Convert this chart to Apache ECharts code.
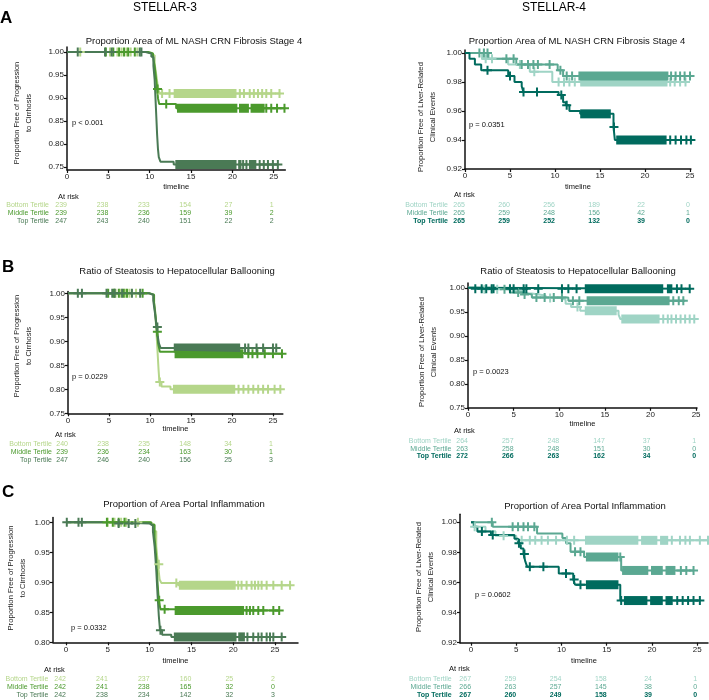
<!DOCTYPE html>
<html><head><meta charset="utf-8">
<script src="https://cdn.jsdelivr.net/npm/echarts@6/dist/echarts.min.js"></script>
<style>html,body{margin:0;padding:0;background:#fff}#c{width:709px;height:700px}</style>
</head><body><div id="c"></div>
<script>
// ================= DATA =================
const xTicks = [0, 5, 10, 15, 20, 25];
const riskTicks = [0, 5, 10, 15, 20, 25];
const tertiles = ['Bottom Tertile', 'Middle Tertile', 'Top Tertile'];
const greens = ['#b5d68a', '#4b9a2d', '#4a7a55'];
const teals = ['#9fd4c5', '#5ba892', '#006b5e'];
const yTicks3 = [0.75, 0.80, 0.85, 0.90, 0.95, 1.00];
const yTicks3c = [0.80, 0.85, 0.90, 0.95, 1.00];
const yTicks4 = [0.92, 0.94, 0.96, 0.98, 1.00];
const yTicks4b = [0.75, 0.80, 0.85, 0.90, 0.95, 1.00];
const titleA = 'Proportion Area of ML NASH CRN Fibrosis Stage 4';
const titleB = 'Ratio of Steatosis to Hepatocellular Ballooning';
const titleC = 'Proportion of Area Portal Inflammation';
const ylab3 = 'Proportion Free of Progression\nto Cirrhosis';
const ylab4 = 'Proportion Free of Liver-Related\nClinical Events';

// ---- A, STELLAR-3 ----
const a3BottomCurve = [[0,1],[9.6,0.998],[10.3,0.993],[10.6,0.975],[10.8,0.95],[10.95,0.93],[11.1,0.915],[11.3,0.91],[25.8,0.91]];
const a3MiddleCurve = [[0,1],[9.8,0.997],[10.4,0.99],[10.6,0.97],[10.75,0.945],[10.9,0.92],[11.0,0.9],[11.15,0.887],[13.2,0.878],[26.4,0.878]];
const a3TopCurve = [[0,1],[9.5,0.997],[10.2,0.99],[10.45,0.97],[10.6,0.94],[10.7,0.9],[10.8,0.86],[10.9,0.82],[11.0,0.79],[11.1,0.772],[11.3,0.762],[12.9,0.756],[25.5,0.756]];
const a3BottomCensor = [1.6,5.2,6.1,6.6,7.2,7.7,8.5,11.5,12.4,20.9,21.4,22.1,22.6,23.1,23.6,24.1,24.7,25.7];
const a3MiddleCensor = [4.7,5.6,6.3,6.9,7.4,8.2,10.95,12.0,24.1,24.7,25.4,26.3];
const a3TopCensor = [1.3,4.6,5.4,8.8,9.0,21.3,21.7,23.3,23.8,24.3,24.9,25.5];
const a3BottomBlocks = [[12.9,20.5]];
const a3MiddleBlocks = [[13.3,20.6],[20.8,22.0],[22.2,23.9]];
const a3TopBlocks = [[13.1,20.5],[20.7,21.1],[22.0,22.9]];
const a3RiskBottom = [239,238,233,154,27,1];
const a3RiskMiddle = [239,238,236,159,39,2];
const a3RiskTop = [247,243,240,151,22,2];

// ---- A, STELLAR-4 ----
const a4BottomCurve = [[0,1],[1.9,0.996],[4.8,0.992],[7.2,0.987],[9.7,0.98],[24.5,0.98]];
const a4MiddleCurve = [[0,1],[2.6,0.996],[5.7,0.992],[10.3,0.988],[10.9,0.984],[25.0,0.984]];
const a4TopCurve = [[0,1],[0.5,0.996],[1.1,0.992],[1.8,0.988],[4.8,0.984],[5.5,0.98],[6.3,0.977],[6.5,0.973],[10.4,0.971],[10.9,0.966],[11.2,0.964],[11.6,0.96],[12.8,0.958],[16.5,0.949],[16.65,0.94],[25.1,0.94]];
const a4BottomCensor = [2.3,3.0,6.1,7.7,10.4,11.0,11.6,12.2,22.8,23.3,23.9,24.5];
const a4MiddleCensor = [1.6,2.1,2.5,4.6,5.4,6.3,7.0,7.6,8.1,9.4,10.6,11.3,11.9,22.9,23.4,23.9,24.4,25.0];
const a4TopCensor = [2.5,5.0,6.5,8.0,10.7,11.3,16.55,22.8,23.4,24.0,24.6,25.1];
const a4BottomBlocks = [[12.8,22.5]];
const a4MiddleBlocks = [[12.6,22.6]];
const a4TopBlocks = [[12.8,16.2],[16.8,22.4]];
const a4RiskBottom = [265,260,256,189,22,0];
const a4RiskMiddle = [265,259,248,156,42,1];
const a4RiskTop = [265,259,252,132,39,0];

// ---- B, STELLAR-3 ----
const b3BottomCurve = [[0,1],[9.8,0.997],[10.4,0.99],[10.6,0.97],[10.75,0.93],[10.85,0.9],[10.95,0.87],[11.05,0.84],[11.15,0.815],[11.4,0.806],[12.5,0.8],[25.9,0.8]];
const b3MiddleCurve = [[0,1],[10.0,0.997],[10.5,0.98],[10.7,0.95],[10.85,0.92],[11.0,0.895],[11.2,0.878],[13.0,0.874],[26.2,0.874]];
const b3TopCurve = [[0,1],[9.9,0.997],[10.4,0.985],[10.6,0.96],[10.8,0.93],[10.95,0.91],[11.1,0.895],[11.3,0.886],[25.5,0.886]];
const b3BottomCensor = [5.8,6.4,7.0,7.5,8.3,11.2,20.8,21.4,22.0,22.6,23.2,23.8,24.4,25.2,25.9];
const b3MiddleCensor = [4.9,5.6,6.2,6.8,7.2,9.1,10.9,22.0,22.5,23.1,24.0,25.0,26.1];
const b3TopCensor = [1.2,1.7,4.7,5.4,5.7,6.6,7.8,8.8,10.9,21.6,22.0,23.0,23.8,25.0,25.4];
const b3BottomBlocks = [[12.8,20.4]];
const b3MiddleBlocks = [[13.0,21.4]];
const b3TopBlocks = [[12.9,21.0]];
const b3RiskBottom = [240,238,235,148,34,1];
const b3RiskMiddle = [239,236,234,163,30,1];
const b3RiskTop = [247,246,240,156,25,3];

// ---- B, STELLAR-4 ----
const b4BottomCurve = [[0,1],[0.6,0.997],[4.6,0.993],[6.0,0.988],[7.0,0.984],[8.5,0.979],[10.0,0.975],[10.7,0.967],[11.3,0.96],[12.3,0.952],[16.5,0.944],[16.7,0.935],[24.8,0.935]];
const b4MiddleCurve = [[0,1],[3.0,0.997],[4.6,0.99],[5.8,0.986],[7.0,0.98],[11.0,0.973],[23.8,0.973]];
const b4TopCurve = [[0,1],[0.6,0.998],[24.4,0.998]];
const b4BottomCensor = [1.8,2.6,3.2,9.0,12.0,21.4,21.9,22.3,22.8,23.3,23.8,24.3,24.8];
const b4MiddleCensor = [4.0,5.5,6.2,7.5,8.4,9.4,10.3,11.5,12.2,22.5,23.1,23.6];
const b4TopCensor = [0.8,1.5,2.0,2.6,2.8,4.6,5.0,6.1,6.4,7.7,10.3,11.0,11.9,22.9,23.4,24.3];
const b4BottomBlocks = [[12.8,16.3],[16.8,21.0]];
const b4MiddleBlocks = [[13.0,22.1]];
const b4TopBlocks = [[12.8,21.4],[21.8,22.4]];
const b4RiskBottom = [264,257,248,147,37,1];
const b4RiskMiddle = [263,258,248,151,30,0];
const b4RiskTop = [272,266,263,162,34,0];

// ---- C, STELLAR-3 ----
const c3BottomCurve = [[0,1],[10.0,0.997],[10.5,0.985],[10.8,0.96],[11.0,0.93],[11.2,0.905],[11.4,0.899],[13.4,0.895],[26.8,0.895]];
const c3MiddleCurve = [[0,1],[10.2,0.996],[10.6,0.975],[10.8,0.94],[10.95,0.9],[11.1,0.87],[11.3,0.855],[12.6,0.853],[25.5,0.853]];
const c3TopCurve = [[0,1],[5.5,0.998],[10.0,0.995],[10.4,0.985],[10.6,0.96],[10.8,0.92],[10.95,0.88],[11.1,0.845],[11.25,0.82],[11.5,0.8125],[12.6,0.809],[25.9,0.809]];
const c3BottomCensor = [5.0,5.8,6.6,7.2,8.6,11.1,13.2,20.6,21.0,21.6,22.2,22.6,23.0,23.4,24.0,24.8,25.8,26.8];
const c3MiddleCensor = [4.9,5.6,6.3,7.0,11.15,11.8,21.6,22.0,22.4,23.0,23.6,24.8,25.5];
const c3TopCensor = [0.1,1.5,1.9,6.3,7.5,8.3,11.3,21.7,22.4,23.0,23.4,24.0,24.4,24.8,25.8];
const c3BottomBlocks = [[13.5,20.3]];
const c3MiddleBlocks = [[13.0,21.3]];
const c3TopBlocks = [[12.9,20.4],[20.6,21.4]];
const c3RiskBottom = [242,241,237,160,25,2];
const c3RiskMiddle = [242,241,238,165,32,0];
const c3RiskTop = [242,238,234,142,32,3];

// ---- C, STELLAR-4 ----
const c4BottomCurve = [[0,1],[0.4,0.997],[1.6,0.994],[2.7,0.991],[5.0,0.988],[26.2,0.988]];
const c4MiddleCurve = [[0,1],[2.4,0.997],[7.3,0.9925],[10.1,0.9895],[10.5,0.986],[11.0,0.9805],[12.5,0.977],[16.6,0.968],[24.6,0.968]];
const c4TopCurve = [[0,1],[0.3,0.997],[0.7,0.9938],[2.2,0.9916],[4.8,0.989],[5.2,0.986],[5.5,0.9825],[5.8,0.979],[6.0,0.974],[6.2,0.9705],[9.7,0.966],[11.3,0.962],[11.5,0.9585],[16.5,0.948],[25.3,0.948]];
const c4BottomCensor = [0.4,3.6,5.6,6.5,7.1,7.8,8.5,9.4,10.6,11.4,22.2,23.1,23.7,24.2,25.3,26.2];
const c4MiddleCensor = [2.3,4.6,5.2,5.8,6.3,7.0,11.5,12.1,16.5,23.2,23.8,24.6];
const c4TopCensor = [1.2,2.4,5.3,5.9,6.5,8.0,10.5,11.4,12.1,16.6,22.8,23.4,24.0,24.6,25.3];
const c4BottomBlocks = [[12.6,18.5],[18.8,20.6],[20.9,21.8]];
const c4MiddleBlocks = [[12.7,16.3],[16.7,19.6],[19.9,21.2],[21.5,22.6]];
const c4TopBlocks = [[12.7,16.3],[16.9,19.5],[19.8,21.2],[21.5,22.3]];
const c4RiskBottom = [267,259,254,158,24,1];
const c4RiskMiddle = [266,263,257,145,38,0];
const c4RiskTop = [267,260,249,158,39,0];

// ================= LAYOUT =================
const FONT = '"Liberation Sans", Arial, Helvetica, sans-serif';
const panels = [
  {grid:{left:67,top:47,width:218.3,height:123}, x:[0,26.4], y:[0.744,1.011], yTicks:yTicks3, colors:greens,
   curves:[a3BottomCurve,a3MiddleCurve,a3TopCurve], censors:[a3BottomCensor,a3MiddleCensor,a3TopCensor],
   blocks:[a3BottomBlocks,a3MiddleBlocks,a3TopBlocks], risk:[a3RiskBottom,a3RiskMiddle,a3RiskTop],
   title:titleA, titleXY:[194,41], ylab:ylab3, ylabSize:7.5, ylabXY:[23,113], p:'p < 0.001', pXY:[72,123],
   tlY:187, atRisk:[58,197], rowsY:[205,213,221], labelRight:49, boldRow:-1},
  {grid:{left:465,top:50,width:225.9,height:119}, x:[0,25.1], y:[0.92,1.002], yTicks:yTicks4, colors:teals,
   curves:[a4BottomCurve,a4MiddleCurve,a4TopCurve], censors:[a4BottomCensor,a4MiddleCensor,a4TopCensor],
   blocks:[a4BottomBlocks,a4MiddleBlocks,a4TopBlocks], risk:[a4RiskBottom,a4RiskMiddle,a4RiskTop],
   title:titleA, titleXY:[577,41], ylab:ylab4, ylabSize:7.7, ylabXY:[427,117], p:'p = 0.0351', pXY:[469,125],
   tlY:187, atRisk:[454,195], rowsY:[205,213,221], labelRight:448, boldRow:2},
  {grid:{left:68,top:291.4,width:214.8,height:121.9}, x:[0,26.2], y:[0.75,1.004], yTicks:yTicks3, colors:greens,
   curves:[b3BottomCurve,b3MiddleCurve,b3TopCurve], censors:[b3BottomCensor,b3MiddleCensor,b3TopCensor],
   blocks:[b3BottomBlocks,b3MiddleBlocks,b3TopBlocks], risk:[b3RiskBottom,b3RiskMiddle,b3RiskTop],
   title:titleB, titleXY:[177,271], ylab:ylab3, ylabSize:7.5, ylabXY:[23,346], p:'p = 0.0229', pXY:[72,377],
   tlY:429, atRisk:[55,435], rowsY:[444,452,460], labelRight:52, boldRow:-1},
  {grid:{left:468,top:283,width:229,height:124.8}, x:[0,25.1], y:[0.75,1.01], yTicks:yTicks4b, colors:teals,
   curves:[b4BottomCurve,b4MiddleCurve,b4TopCurve], censors:[b4BottomCensor,b4MiddleCensor,b4TopCensor],
   blocks:[b4BottomBlocks,b4MiddleBlocks,b4TopBlocks], risk:[b4RiskBottom,b4RiskMiddle,b4RiskTop],
   title:titleB, titleXY:[578,271], ylab:ylab4, ylabSize:7.7, ylabXY:[428,352], p:'p = 0.0023', pXY:[473,372],
   tlY:424, atRisk:[454,431], rowsY:[441,449,456.5], labelRight:451.5, boldRow:2},
  {grid:{left:53,top:517.5,width:245,height:124.8}, x:[-1.55,27.75], y:[0.80,1.008], yTicks:yTicks3c, colors:greens,
   curves:[c3BottomCurve,c3MiddleCurve,c3TopCurve], censors:[c3BottomCensor,c3MiddleCensor,c3TopCensor],
   blocks:[c3BottomBlocks,c3MiddleBlocks,c3TopBlocks], risk:[c3RiskBottom,c3RiskMiddle,c3RiskTop],
   title:titleC, titleXY:[184,504], ylab:ylab3, ylabSize:7.7, ylabXY:[16.5,578], p:'p = 0.0332', pXY:[71,628],
   tlY:661, atRisk:[44,669.5], rowsY:[679.3,687.3,695.2], labelRight:48.3, boldRow:-1},
  {grid:{left:460,top:514.3,width:248,height:128.4}, x:[-1.22,26.2], y:[0.92,1.0053], yTicks:yTicks4, colors:teals,
   curves:[c4BottomCurve,c4MiddleCurve,c4TopCurve], censors:[c4BottomCensor,c4MiddleCensor,c4TopCensor],
   blocks:[c4BottomBlocks,c4MiddleBlocks,c4TopBlocks], risk:[c4RiskBottom,c4RiskMiddle,c4RiskTop],
   title:titleC, titleXY:[585,506], ylab:ylab4, ylabSize:7.7, ylabXY:[425,577], p:'p = 0.0602', pXY:[475,595],
   tlY:661, atRisk:[449,669], rowsY:[679.3,687.5,695.3], labelRight:451.7, boldRow:2}
];

const plusPath = 'path://M3.5,0H5.5V3.5H9V5.5H5.5V9H3.5V5.5H0V3.5H3.5Z';
function survAt(curve, t) {
  let s = curve[0][1];
  for (const p of curve) { if (p[0] <= t + 1e-9) s = p[1]; else break; }
  return s;
}

const chart = echarts.init(document.getElementById('c'), null, {renderer: 'canvas'});
const grids = [], xAxes = [], yAxes = [], series = [];
panels.forEach((P, i) => {
  grids.push({left: P.grid.left, top: P.grid.top, width: P.grid.width, height: P.grid.height, containLabel: false});
  xAxes.push({type: 'value', gridIndex: i, min: P.x[0], max: P.x[1], splitLine: {show: false},
    axisLine: {show: true, onZero: false, lineStyle: {color: '#111', width: 1.5}},
    axisTick: {show: true, customValues: xTicks, length: 3, lineStyle: {color: '#111', width: 1.2}},
    axisLabel: {show: true, customValues: xTicks, fontSize: 8, color: '#222', margin: 3, fontFamily: FONT,
      formatter: v => String(Math.round(v))}});
  yAxes.push({type: 'value', gridIndex: i, min: P.y[0], max: P.y[1], splitLine: {show: false},
    axisLine: {show: true, onZero: false, lineStyle: {color: '#111', width: 1.5}},
    axisTick: {show: true, customValues: P.yTicks, length: 3, lineStyle: {color: '#111', width: 1.2}},
    axisLabel: {show: true, customValues: P.yTicks, fontSize: 8, color: '#222', margin: 3, fontFamily: FONT,
      formatter: v => v.toFixed(2)}});
  P.curves.forEach((curve, k) => {
    const col = P.colors[k];
    series.push({type: 'line', xAxisIndex: i, yAxisIndex: i, step: 'end', data: curve, symbol: 'none',
      showSymbol: false, lineStyle: {color: col, width: 2}, itemStyle: {color: col}, silent: true,
      animation: false, clip: false, z: 2});
    series.push({type: 'custom', xAxisIndex: i, yAxisIndex: i, coordinateSystem: 'cartesian2d',
      data: P.blocks[k].map(b => [b[0], b[1], survAt(curve, b[0])]),
      encode: {x: [0, 1], y: 2}, silent: true, animation: false, clip: false, z: 2,
      renderItem: (params, api) => {
        const p0 = api.coord([api.value(0), api.value(2)]);
        const p1 = api.coord([api.value(1), api.value(2)]);
        return {type: 'rect', shape: {x: p0[0], y: p0[1] - 4.5, width: p1[0] - p0[0], height: 9},
          style: {fill: col}};
      }});
    series.push({type: 'scatter', xAxisIndex: i, yAxisIndex: i, symbol: plusPath, symbolSize: 9,
      data: P.censors[k].map(t => [t, survAt(curve, t)]), itemStyle: {color: col, opacity: 1},
      silent: true, animation: false, clip: false, z: 2});
  });
});

chart.setOption({animation: false, grid: grids, xAxis: xAxes, yAxis: yAxes, series: series});

// ================= TEXT =================
const g = [];
function txt(x, y, text, o) {
  o = o || {};
  const align = o.align || 'left';
  const valign = o.valign || 'middle';
  g.push({type: 'text', x: x, y: y, rotation: o.rotation || 0, silent: true, z: 10,
    style: {text: text, fill: o.color || '#111', fontSize: o.size || 8, fontFamily: FONT,
      fontWeight: o.weight || 'normal', align: align, textAlign: align,
      verticalAlign: valign, textVerticalAlign: valign, lineHeight: o.lineHeight || undefined}});
}
txt(165, 7.5, 'STELLAR-3', {size: 12, align: 'center', color: '#000'});
txt(554, 7.5, 'STELLAR-4', {size: 12, align: 'center', color: '#000'});
txt(0, 18.5, 'A', {size: 17, weight: 'bold', color: '#000'});
txt(2, 267, 'B', {size: 17, weight: 'bold', color: '#000'});
txt(2, 492, 'C', {size: 17, weight: 'bold', color: '#000'});

panels.forEach((P, i) => {
  txt(P.titleXY[0], P.titleXY[1], P.title, {size: 9.5, align: 'center', color: '#111'});
  txt(P.ylabXY[0], P.ylabXY[1], P.ylab, {size: P.ylabSize, align: 'center', rotation: Math.PI / 2, lineHeight: 12, color: '#222'});
  txt(P.pXY[0], P.pXY[1], P.p, {size: 7.5, color: '#111'});
  txt(P.grid.left + P.grid.width / 2, P.tlY, 'timeline', {size: 7.5, align: 'center', color: '#111'});
  txt(P.atRisk[0], P.atRisk[1], 'At risk', {size: 7.5, color: '#111'});
  P.risk.forEach((row, k) => {
    const col = P.colors[k];
    const w = (k === P.boldRow) ? 'bold' : 'normal';
    txt(P.labelRight, P.rowsY[k], tertiles[k], {size: 7, align: 'right', color: col, weight: w});
    row.forEach((n, j) => {
      const px = chart.convertToPixel({xAxisIndex: i}, riskTicks[j]);
      txt(px, P.rowsY[k], String(n), {size: 7, align: 'right', color: col, weight: w});
    });
  });
});
chart.setOption({graphic: {elements: g}});
</script>
</body></html>
